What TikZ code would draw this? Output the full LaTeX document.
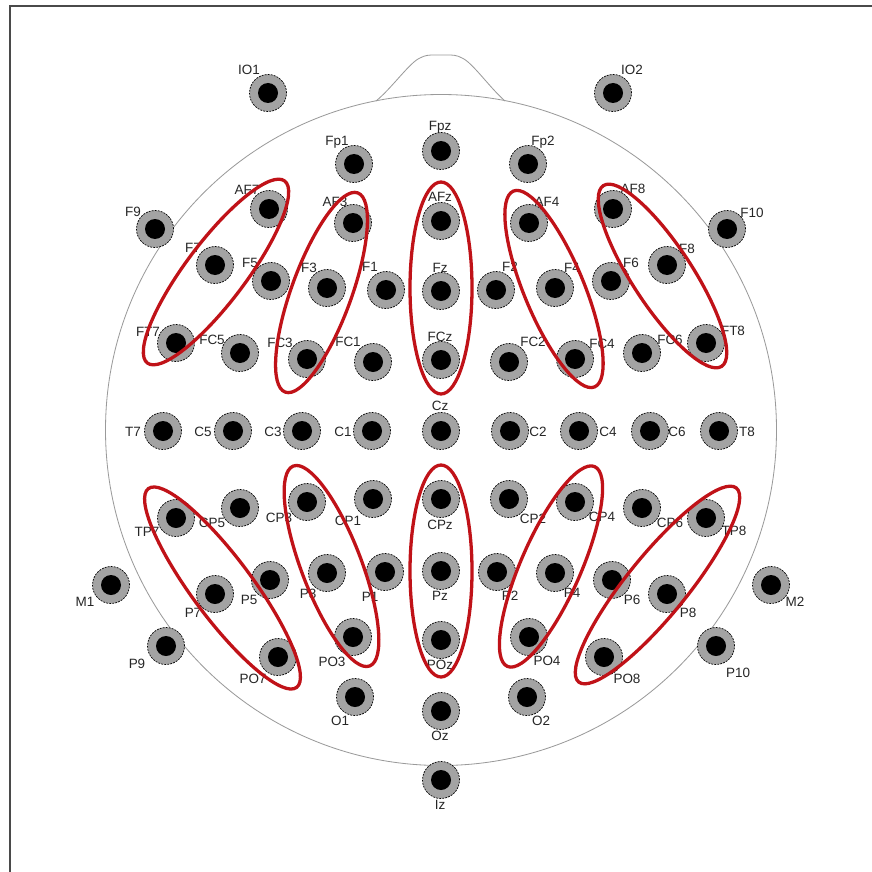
\documentclass[tikz,border=0pt]{standalone}
\usepackage{fontspec}
\setmainfont{Liberation Sans}
\usepackage{tikz}
\usepackage{xcolor}
\definecolor{capgray}{HTML}{A3A3A3}
\definecolor{bandred}{HTML}{C01218}
\definecolor{headgray}{HTML}{9A9A9A}
\definecolor{framegray}{HTML}{4A4A4A}

\begin{document}
\begin{tikzpicture}[
        x=0.03cm, y=-0.03cm,
        electrode/.style={
          circle,
          draw=black,
          dash pattern=on 1.6pt off 1pt,
          line width=0.6pt,
          fill=capgray,
          minimum size=1.11cm,
          inner sep=0pt,
          path picture={\fill[black] (path picture bounding box.center) circle (0.3cm);}
        },
        lbl/.style={
          font=\fontsize{11.5}{13}\selectfont,
          text=black!85,
          inner sep=0pt
        },
        band/.style={
          draw=bandred,
          line width=2.8pt
        },
        head/.style={
          draw=headgray,
          line width=0.7pt
        }
      ]

      \fill[white] (0,0) rectangle (872,872);
      \useasboundingbox (0,0) rectangle (872,872);
      \draw[framegray, line width=1.6pt] (10,872) -- (10,6) -- (872,6);

      % head and nose
      \draw[head] (441,430) circle (335.5);
      \draw[head] (376,101) .. controls (392,88) and (410,62) .. (420,58)
                            .. controls (425,55) and (430,55) .. (434,55) -- (448,55)
                            .. controls (452,55) and (457,55) .. (462,58)
                            .. controls (472,62) and (490,88) .. (505,101);

      % labels
      \node[lbl] (tIO1) at (249,70) {IO1};
      \node[lbl] (tIO2) at (632,70) {IO2};
      \node[lbl] (tFp1) at (337,142) {Fp1};
      \node[lbl] (tFpz) at (440,127) {Fpz};
      \node[lbl] (tFp2) at (543,142) {Fp2};
      \node[lbl] (tAF7) at (247,190) {AF7};
      \node[lbl] (tAF3) at (335,202) {AF3};
      \node[lbl] (tAFz) at (440,197) {AFz};
      \node[lbl] (tAF4) at (547,202) {AF4};
      \node[lbl] (tAF8) at (633,189) {AF8};
      \node[lbl] (tF9) at (133,212) {F9};
      \node[lbl] (tF10) at (752,213) {F10};
      \node[lbl] (tF7) at (193,248) {F7};
      \node[lbl] (tF8) at (687,249) {F8};
      \node[lbl] (tF5) at (250,263) {F5};
      \node[lbl] (tF6) at (631,263) {F6};
      \node[lbl] (tF3) at (309,268) {F3};
      \node[lbl] (tF4) at (572,268) {F4};
      \node[lbl] (tF1) at (370,267) {F1};
      \node[lbl] (tF2) at (510,267) {F2};
      \node[lbl] (tFz) at (440,268) {Fz};
      \node[lbl] (tFT7) at (148,332) {FT7};
      \node[lbl] (tFT8) at (733,331) {FT8};
      \node[lbl] (tFC5) at (212,340) {FC5};
      \node[lbl] (tFC6) at (670,340) {FC6};
      \node[lbl] (tFC3) at (280,343) {FC3};
      \node[lbl] (tFC4) at (602,344) {FC4};
      \node[lbl] (tFC1) at (348,342) {FC1};
      \node[lbl] (tFC2) at (533,342) {FC2};
      \node[lbl] (tFCz) at (440,337) {FCz};
      \node[lbl] (tT7) at (133,432) {T7};
      \node[lbl] (tC5) at (203,432) {C5};
      \node[lbl] (tC3) at (273,432) {C3};
      \node[lbl] (tC1) at (343,432) {C1};
      \node[lbl] (tCz) at (440,406) {Cz};
      \node[lbl] (tC2) at (538,432) {C2};
      \node[lbl] (tC4) at (608,432) {C4};
      \node[lbl] (tC6) at (677,432) {C6};
      \node[lbl] (tT8) at (747,432) {T8};
      \node[lbl] (tTP7) at (147,532) {TP7};
      \node[lbl] (tTP8) at (734,531) {TP8};
      \node[lbl] (tCP5) at (212,523) {CP5};
      \node[lbl] (tCP6) at (670,523) {CP6};
      \node[lbl] (tCP3) at (279,518) {CP3};
      \node[lbl] (tCP4) at (602,517) {CP4};
      \node[lbl] (tCP1) at (348,521) {CP1};
      \node[lbl] (tCP2) at (533,519) {CP2};
      \node[lbl] (tCPz) at (440,525) {CPz};
      \node[lbl] (tM1) at (85,602) {M1};
      \node[lbl] (tM2) at (795,602) {M2};
      \node[lbl] (tP7) at (193,613) {P7};
      \node[lbl] (tP8) at (688,613) {P8};
      \node[lbl] (tP5) at (249,600) {P5};
      \node[lbl] (tP6) at (632,600) {P6};
      \node[lbl] (tP3) at (308,594) {P3};
      \node[lbl] (tP4) at (572,593) {P4};
      \node[lbl] (tP1) at (370,597) {P1};
      \node[lbl] (tP2) at (510,596) {P2};
      \node[lbl] (tPz) at (440,596) {Pz};
      \node[lbl] (tP9) at (137,664) {P9};
      \node[lbl] (tP10) at (738,673) {P10};
      \node[lbl] (tPO7) at (253,679) {PO7};
      \node[lbl] (tPO8) at (627,679) {PO8};
      \node[lbl] (tPO3) at (332,662) {PO3};
      \node[lbl] (tPO4) at (547,661) {PO4};
      \node[lbl] (tPOz) at (440,665) {POz};
      \node[lbl] (tO1) at (340,721) {O1};
      \node[lbl] (tOz) at (440,736) {Oz};
      \node[lbl] (tO2) at (541,721) {O2};
      \node[lbl] (tIz) at (440,805) {Iz};

      % electrodes
      \node[electrode] (IO1) at (268,93) {};
      \node[electrode] (IO2) at (613,93) {};
      \node[electrode] (Fp1) at (354,164) {};
      \node[electrode] (Fpz) at (441,151) {};
      \node[electrode] (Fp2) at (528,164) {};
      \node[electrode] (AF7) at (269,209) {};
      \node[electrode] (AF3) at (353,223) {};
      \node[electrode] (AFz) at (441,221) {};
      \node[electrode] (AF4) at (529,223) {};
      \node[electrode] (AF8) at (613,209) {};
      \node[electrode] (F9) at (155,229) {};
      \node[electrode] (F10) at (727,229) {};
      \node[electrode] (F7) at (215,265) {};
      \node[electrode] (F8) at (667,265) {};
      \node[electrode] (F5) at (271,281) {};
      \node[electrode] (F6) at (611,281) {};
      \node[electrode] (F3) at (327,288) {};
      \node[electrode] (F4) at (555,288) {};
      \node[electrode] (F1) at (386,290) {};
      \node[electrode] (F2) at (496,290) {};
      \node[electrode] (Fz) at (441,291) {};
      \node[electrode] (FT7) at (176,343) {};
      \node[electrode] (FT8) at (706,343) {};
      \node[electrode] (FC5) at (240,353) {};
      \node[electrode] (FC6) at (642,353) {};
      \node[electrode] (FC3) at (307,359) {};
      \node[electrode] (FC4) at (575,359) {};
      \node[electrode] (FC1) at (373,362) {};
      \node[electrode] (FC2) at (509,362) {};
      \node[electrode] (FCz) at (441,360) {};
      \node[electrode] (T7) at (163,431) {};
      \node[electrode] (C5) at (233,431) {};
      \node[electrode] (C3) at (302,431) {};
      \node[electrode] (C1) at (372,431) {};
      \node[electrode] (Cz) at (441,431) {};
      \node[electrode] (C2) at (510,431) {};
      \node[electrode] (C4) at (579,431) {};
      \node[electrode] (C6) at (650,431) {};
      \node[electrode] (T8) at (719,431) {};
      \node[electrode] (TP7) at (176,518) {};
      \node[electrode] (TP8) at (706,518) {};
      \node[electrode] (CP5) at (240,508) {};
      \node[electrode] (CP6) at (642,508) {};
      \node[electrode] (CP3) at (307,502) {};
      \node[electrode] (CP4) at (575,502) {};
      \node[electrode] (CP1) at (373,499) {};
      \node[electrode] (CP2) at (509,499) {};
      \node[electrode] (CPz) at (441,499) {};
      \node[electrode] (M1) at (111,585) {};
      \node[electrode] (M2) at (771,585) {};
      \node[electrode] (P7) at (215,594) {};
      \node[electrode] (P8) at (667,594) {};
      \node[electrode] (P5) at (270,580) {};
      \node[electrode] (P6) at (612,580) {};
      \node[electrode] (P3) at (327,573) {};
      \node[electrode] (P4) at (555,573) {};
      \node[electrode] (P1) at (385,572) {};
      \node[electrode] (P2) at (497,572) {};
      \node[electrode] (Pz) at (441,571) {};
      \node[electrode] (P9) at (166,646) {};
      \node[electrode] (P10) at (716,646) {};
      \node[electrode] (PO7) at (278,657) {};
      \node[electrode] (PO8) at (604,657) {};
      \node[electrode] (PO3) at (353,637) {};
      \node[electrode] (PO4) at (529,637) {};
      \node[electrode] (POz) at (441,640) {};
      \node[electrode] (O1) at (355,697) {};
      \node[electrode] (Oz) at (441,711) {};
      \node[electrode] (O2) at (527,697) {};
      \node[electrode] (Iz) at (441,780) {};

      % electrode groups
      \draw[band, rotate around={53:(216,272)}] (216,272) ellipse (114 and 30);
      \draw[band, rotate around={70:(321.5,292.5)}] (321.5,292.5) ellipse (106 and 30);
      \draw[band] (441,288) ellipse (31 and 106);
      \draw[band, rotate around={112.5:(554,289)}] (554,289) ellipse (106 and 30);
      \draw[band, rotate around={123.2:(662.5,276)}] (662.5,276) ellipse (108 and 30);
      \draw[band, rotate around={126.7:(222.5,588)}] (222.5,588) ellipse (124 and 30);
      \draw[band, rotate around={110.9:(331.5,566)}] (331.5,566) ellipse (107 and 30);
      \draw[band] (441,571) ellipse (31 and 106);
      \draw[band, rotate around={66.4:(551,566.5)}] (551,566.5) ellipse (109 and 30);
      \draw[band, rotate around={50.9:(657.5,585)}] (657.5,585) ellipse (125 and 30);

      \end{tikzpicture}
\end{document}
